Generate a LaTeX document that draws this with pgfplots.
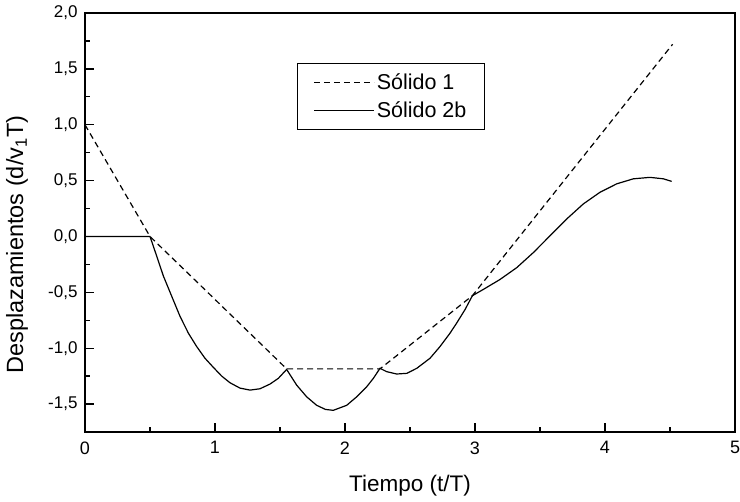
\documentclass[border=0pt]{standalone}
\usepackage{fontspec}
\setmainfont{Liberation Sans}
\usepackage{pgfplots}
\pgfplotsset{compat=1.18}
\begin{document}
\begin{tikzpicture}
\begin{axis}[
  scale only axis,
  width=650pt, height=419pt,
  xmin=0, xmax=5, ymin=-1.75, ymax=2.0,
  xtick={0,1,2,3,4,5},
  ytick={-1.5,-1,-0.5,0,0.5,1,1.5,2},
  minor x tick num=1,
  minor y tick num=1,
  xtick pos=bottom, ytick pos=left,
  tick align=inside,
  major tick length=9pt, minor tick length=5pt,
  axis line style={line width=1.6pt},
  every tick/.style={line width=1.3pt, black},
  /pgf/number format/assume math mode=true,
  xticklabel style={font=\fontsize{18}{21}\selectfont, yshift=-6pt},
  yticklabel style={font=\fontsize{17}{20}\selectfont, xshift=-4pt, /pgf/number format/.cd, fixed, fixed zerofill, precision=1, use comma},
  xlabel={Tiempo (t/T)},
  ylabel={Desplazamientos (d/v\textsubscript{1}T)},
  xlabel style={font=\fontsize{22.5}{26}\selectfont, at={(axis description cs:0.5,0)}, anchor=center, yshift=-54pt},
  ylabel style={font=\fontsize{23.5}{27}\selectfont, at={(axis description cs:-0.1046,0.447)}, anchor=center},
  legend style={at={(rel axis cs:0.326,0.881)}, anchor=north west,
    font=\fontsize{21.5}{25}\selectfont, draw=black, line width=1.3pt,
    inner xsep=16pt, inner ysep=8pt, row sep=7pt},
  legend cell align=left,
  legend image code/.code={\draw[#1] (0pt,0pt) -- (60pt,0pt);},
]
\addplot[black, line width=1.2pt, dash pattern=on 6pt off 4pt] coordinates {
(0,1.0) (0.5,0) (1.551,-1.185) (2.269,-1.185) (2.98,-0.53) (4.52,1.72)
};
\addlegendentry{Sólido 1}
\addplot[black, line width=1.2pt] coordinates {
(0,0) (0.5,0)
(0.551,-0.174) (0.603,-0.354) (0.667,-0.535) (0.731,-0.715) (0.795,-0.865)
(0.859,-0.985) (0.923,-1.090) (0.987,-1.171) (1.051,-1.249) (1.115,-1.309)
(1.192,-1.357) (1.269,-1.375) (1.346,-1.363) (1.423,-1.321) (1.487,-1.270)
(1.551,-1.190)
(1.628,-1.330) (1.705,-1.435) (1.782,-1.511) (1.850,-1.548) (1.910,-1.556)
(2.013,-1.511) (2.090,-1.435) (2.167,-1.345) (2.218,-1.270) (2.269,-1.180)
(2.321,-1.210) (2.398,-1.231) (2.475,-1.225) (2.552,-1.180) (2.654,-1.090)
(2.731,-0.985) (2.808,-0.865) (2.859,-0.775) (2.923,-0.655) (2.980,-0.530)
(3.064,-0.474) (3.192,-0.385) (3.321,-0.279) (3.449,-0.144) (3.577,0.006)
(3.705,0.156) (3.833,0.291) (3.962,0.396) (4.090,0.471) (4.218,0.516)
(4.346,0.529) (4.449,0.516) (4.513,0.493)
};
\addlegendentry{Sólido 2b}
\end{axis}
\pgfresetboundingbox
\path[use as bounding box] ([shift={(-85pt,-69pt)}]current axis.south west) rectangle ([shift={(5pt,13pt)}]current axis.north east);
\end{tikzpicture}
\end{document}
